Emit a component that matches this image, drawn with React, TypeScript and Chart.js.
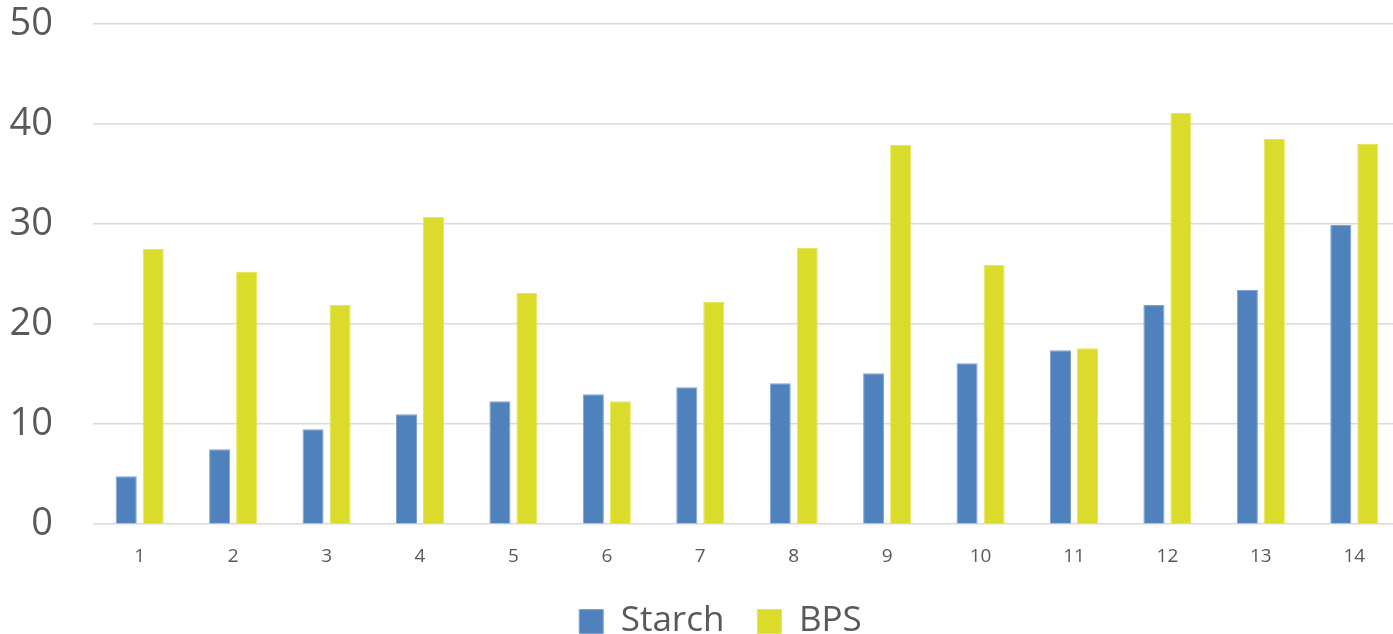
import React, { useEffect, useRef } from "react";
import { Chart, registerables } from "chart.js";

Chart.register(...registerables);

const categories = ["1", "2", "3", "4", "5", "6", "7", "8", "9", "10", "11", "12", "13", "14"];
const starch = [4.8, 7.5, 9.5, 11.0, 12.3, 13.0, 13.7, 14.1, 15.1, 16.1, 17.4, 21.9, 23.4, 29.9];
const bps = [27.5, 25.2, 21.9, 30.7, 23.1, 12.3, 22.2, 27.6, 37.9, 25.9, 17.6, 41.1, 38.5, 38.0];
const seriesNames = ["Starch", "BPS"];
const yTicks = [0, 10, 20, 30, 40, 50];

export default function App() {
  const ref = useRef<HTMLCanvasElement | null>(null);
  useEffect(() => {
    if (!ref.current) return;
    const chart = new Chart(ref.current, {
      type: "bar",
      data: {
        labels: categories,
        datasets: [
          {
            label: seriesNames[0],
            data: starch,
            backgroundColor: "#4F81BD",
            borderColor: "#7FA3D3",
            borderWidth: 1,
            categoryPercentage: 0.578,
            barPercentage: 0.78,
          },
          {
            label: seriesNames[1],
            data: bps,
            backgroundColor: "#DBDB2B",
            borderColor: "#E6E65C",
            borderWidth: 1,
            categoryPercentage: 0.578,
            barPercentage: 0.78,
          },
        ],
      },
      options: {
        animation: false,
        responsive: false,
        maintainAspectRatio: false,
        layout: { padding: { top: 24, left: 0, right: 0, bottom: 0 } },
        plugins: {
          tooltip: { enabled: false },
          legend: {
            position: "bottom",
            labels: {
              boxWidth: 24,
              boxHeight: 24,
              padding: 33,
              color: "#595959",
              font: { family: "'Open Sans', sans-serif", size: 35 },
            },
          },
        },
        scales: {
          x: {
            grid: { display: false, drawTicks: false },
            border: { display: false },
            ticks: {
              color: "#595959",
              font: { family: "'Open Sans', sans-serif", size: 19 },
              padding: 21,
            },
            afterFit: (scale: any) => {
              scale.height = scale.height - 18;
            },
          },
          y: {
            min: 0,
            max: 50,
            afterBuildTicks: (scale: any) => {
              scale.ticks = yTicks.map((v) => ({ value: v }));
            },
            afterFit: (scale: any) => {
              scale.width = 93;
              scale.paddingTop = 0;
              scale.paddingBottom = 0;
            },
            grid: { color: "#D9D9D9", lineWidth: 1.5, drawTicks: false },
            border: { display: false },
            ticks: {
              color: "#595959",
              font: { family: "'Open Sans', sans-serif", size: 38 },
              padding: 40,
            },
          },
          yRight: {
            position: "right",
            display: true,
            grid: { display: false, drawTicks: false },
            border: { display: false },
            ticks: { display: false },
            afterFit: (scale: any) => {
              scale.width = 40;
              scale.paddingTop = 0;
              scale.paddingBottom = 0;
            },
          },
        },
      },
    });
    return () => chart.destroy();
  }, []);
  return (
    <div style={{ position: "fixed", left: 0, top: 0, width: 1393, height: 634, overflow: "hidden", background: "#fff" }}>
      <canvas ref={ref} width={1441} height={649} style={{ display: "block" }} />
    </div>
  );
}
